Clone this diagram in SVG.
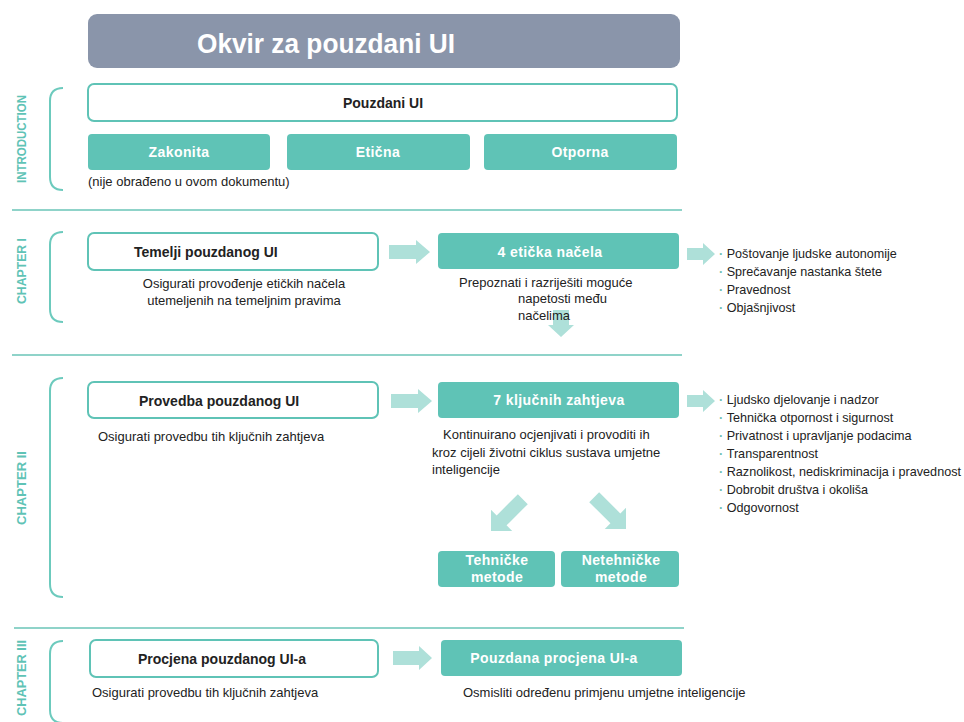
<svg xmlns="http://www.w3.org/2000/svg" width="964" height="722" viewBox="0 0 964 722">
<style>
text{font-family:"Liberation Sans",Arial,sans-serif;fill:#222}
.title{font-size:28px;font-weight:bold;fill:#fff}
.hd{font-size:14px;font-weight:bold;fill:#222}
.wt{font-size:14px;font-weight:bold;fill:#fff;text-anchor:middle;letter-spacing:0.4px}
.desc{font-size:13px}
.li{font-size:12.6px}
.dot{fill:#6fbfb4;font-weight:bold}
.ch{font-size:12px;font-weight:bold;fill:#5fc3b6;text-anchor:middle}
.wbox{fill:#fff;stroke:#5fc3b6;stroke-width:2}
.tbox{fill:#5fc3b6}
.sep{stroke:#8fd3c9;stroke-width:2;fill:none}
.brk{stroke:#6ccabd;stroke-width:2;fill:none}
.arr{fill:#aee0d9}
</style>

<g id="title">
<rect x="88" y="14" width="592" height="54" rx="9" fill="#8a95aa"/>
<text class="title" x="197" y="53" textLength="258" lengthAdjust="spacingAndGlyphs">Okvir za pouzdani UI</text>
</g>

<g id="separators">
<line class="sep" x1="12" y1="210" x2="682" y2="210"/>
<line class="sep" x1="12" y1="355" x2="682" y2="355"/>
<line class="sep" x1="14" y1="628" x2="684" y2="628"/>
</g>

<g id="chapter-labels">
<path class="brk" d="M63,88 Q50,88 50,101 L50,177 Q50,190 63,190"/>
<text class="ch" transform="translate(26,139) rotate(-90)" textLength="88" lengthAdjust="spacingAndGlyphs">INTRODUCTION</text>
<path class="brk" d="M63,232 Q50,232 50,245 L50,309 Q50,322 63,322"/>
<text class="ch" transform="translate(26,271) rotate(-90)" textLength="66" lengthAdjust="spacingAndGlyphs">CHAPTER I</text>
<path class="brk" d="M63,378 Q50,378 50,391 L50,584 Q50,597 63,597"/>
<text class="ch" transform="translate(26,488) rotate(-90)" textLength="74" lengthAdjust="spacingAndGlyphs">CHAPTER II</text>
<path class="brk" d="M63,641 Q50,641 50,654 L50,710 Q50,723 63,723"/>
<text class="ch" transform="translate(26,678) rotate(-90)" textLength="76" lengthAdjust="spacingAndGlyphs">CHAPTER III</text>
</g>

<g id="connectors">
<polygon class="arr" points="389,245 416,245 416,240 430,252 416,264 416,259 389,259"/>
<polygon class="arr" points="687,248 703,248 703,243 715,254 703,265 703,260 687,260"/>
<polygon class="arr" points="553,310 569,310 569,325 574,325 561,337 548,325 553,325"/>
<polygon class="arr" points="391,394 418,394 418,389 432,401 418,413 418,408 391,408"/>
<polygon class="arr" points="687,395 703,395 703,390 715,401 703,412 703,407 687,407"/>
<polygon class="arr" transform="translate(491,531) rotate(135)" points="-45,-7 -15,-7 -15,-15 0,0 -15,15 -15,7 -45,7"/>
<polygon class="arr" transform="translate(626,529) rotate(45)" points="-45,-7 -15,-7 -15,-15 0,0 -15,15 -15,7 -45,7"/>
<polygon class="arr" points="393,651 419,651 419,646 432,658 419,670 419,665 393,665"/>
</g>

<g id="pouzdani-ui">
<rect class="wbox" x="88" y="84" width="589" height="37" rx="6"/>
<text class="hd" x="383" y="108" text-anchor="middle">Pouzdani UI</text>
</g>
<g id="zakonita">
<rect class="tbox" x="88" y="134" width="182" height="36" rx="4"/>
<text class="wt" x="179" y="157">Zakonita</text>
</g>
<g id="eticna">
<rect class="tbox" x="287" y="134" width="183" height="36" rx="4"/>
<text class="wt" x="378" y="157">Etična</text>
</g>
<g id="otporna">
<rect class="tbox" x="484" y="134" width="193" height="36" rx="4"/>
<text class="wt" x="580" y="157">Otporna</text>
</g>
<g id="note-intro">
<text class="desc" x="88" y="186">(nije obrađeno u ovom dokumentu)</text>
</g>

<g id="temelji">
<rect class="wbox" x="88" y="233" width="290" height="37" rx="6"/>
<text class="hd" x="134" y="257">Temelji pouzdanog UI</text>
<text class="desc" x="244" y="288" text-anchor="middle">Osigurati provođenje etičkih načela</text>
<text class="desc" x="244" y="305" text-anchor="middle">utemeljenih na temeljnim pravima</text>
</g>
<g id="eticka-nacela">
<rect class="tbox" x="438" y="233" width="241" height="36" rx="4"/>
<text class="wt" x="550" y="257">4 etička načela</text>
<text class="desc" x="459" y="287">Prepoznati i razriješiti moguće</text>
<text class="desc" x="518" y="303">napetosti među</text>
<text class="desc" x="518" y="320">načelima</text>
</g>
<g id="lista-nacela">
<text class="li" x="719" y="258"><tspan class="dot">· </tspan>Poštovanje ljudske autonomije</text>
<text class="li" x="719" y="276"><tspan class="dot">· </tspan>Sprečavanje nastanka štete</text>
<text class="li" x="719" y="294"><tspan class="dot">· </tspan>Pravednost</text>
<text class="li" x="719" y="312"><tspan class="dot">· </tspan>Objašnjivost</text>
</g>

<g id="provedba">
<rect class="wbox" x="88" y="382" width="290" height="36" rx="6"/>
<text class="hd" x="139" y="406">Provedba pouzdanog UI</text>
<text class="desc" x="98" y="441">Osigurati provedbu tih ključnih zahtjeva</text>
</g>
<g id="kljucni-zahtjevi">
<rect class="tbox" x="438" y="382" width="241" height="36" rx="4"/>
<text class="wt" x="559" y="405">7 ključnih zahtjeva</text>
<text class="desc" x="443" y="439">Kontinuirano ocjenjivati i provoditi ih</text>
<text class="desc" x="432" y="457">kroz cijeli životni ciklus sustava umjetne</text>
<text class="desc" x="432" y="474">inteligencije</text>
</g>
<g id="lista-zahtjeva">
<text class="li" x="719" y="404"><tspan class="dot">· </tspan>Ljudsko djelovanje i nadzor</text>
<text class="li" x="719" y="422"><tspan class="dot">· </tspan>Tehnička otpornost i sigurnost</text>
<text class="li" x="719" y="440"><tspan class="dot">· </tspan>Privatnost i upravljanje podacima</text>
<text class="li" x="719" y="458"><tspan class="dot">· </tspan>Transparentnost</text>
<text class="li" x="719" y="476" textLength="242" lengthAdjust="spacingAndGlyphs"><tspan class="dot">· </tspan>Raznolikost, nediskriminacija i pravednost</text>
<text class="li" x="719" y="494"><tspan class="dot">· </tspan>Dobrobit društva i okoliša</text>
<text class="li" x="719" y="512"><tspan class="dot">· </tspan>Odgovornost</text>
</g>
<g id="tehnicke-metode">
<rect class="tbox" x="438" y="551" width="117" height="36" rx="4"/>
<text class="wt" x="497" y="565">Tehničke</text>
<text class="wt" x="497" y="582">metode</text>
</g>
<g id="netehnicke-metode">
<rect class="tbox" x="561" y="551" width="118" height="36" rx="4"/>
<text class="wt" x="621" y="565">Netehničke</text>
<text class="wt" x="621" y="582">metode</text>
</g>

<g id="procjena">
<rect class="wbox" x="90" y="640" width="288" height="37" rx="6"/>
<text class="hd" x="138" y="664">Procjena pouzdanog UI-a</text>
<text class="desc" x="92" y="697">Osigurati provedbu tih ključnih zahtjeva</text>
</g>
<g id="pouzdana-procjena">
<rect class="tbox" x="441" y="640" width="241" height="36" rx="4"/>
<text class="wt" x="554" y="663">Pouzdana procjena UI-a</text>
<text class="desc" x="463" y="697">Osmisliti određenu primjenu umjetne inteligencije</text>
</g>
</svg>
